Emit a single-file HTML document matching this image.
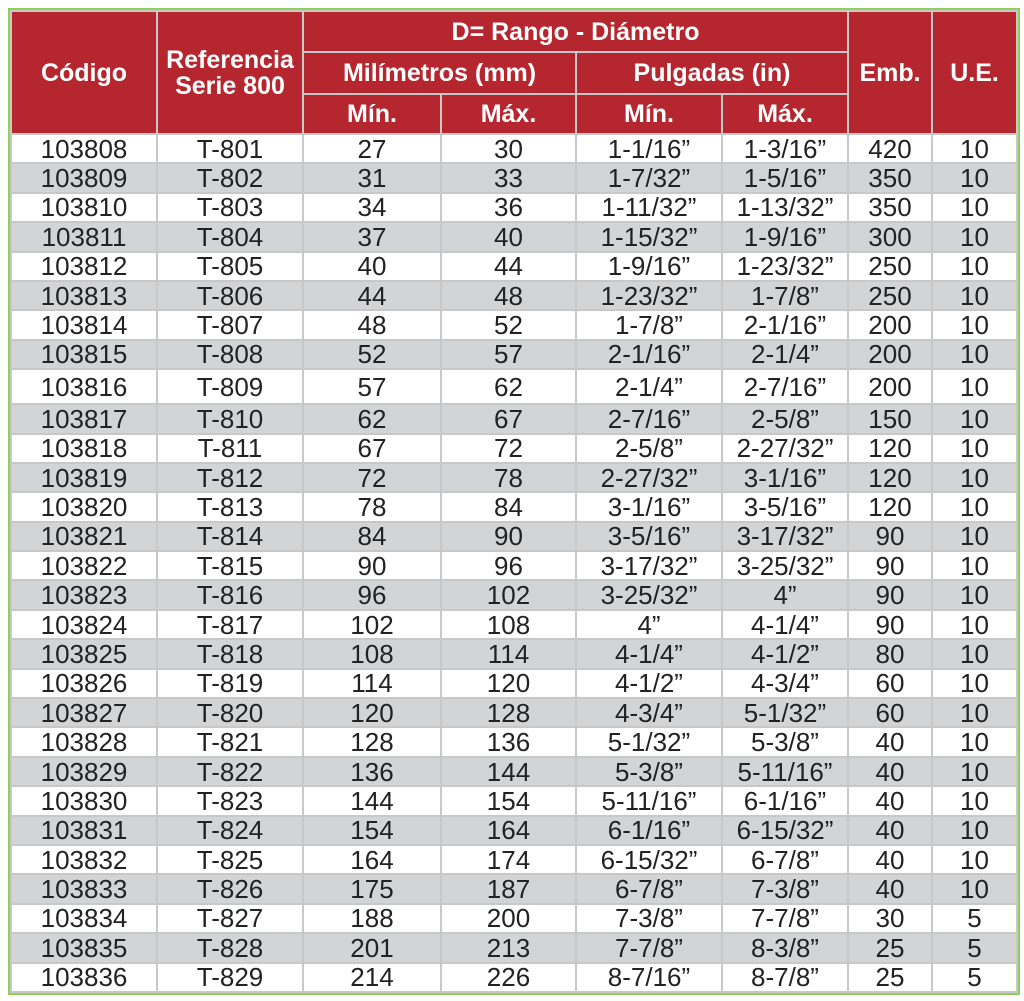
<!DOCTYPE html>
<html><head><meta charset="utf-8"><style>
html,body{margin:0;padding:0;background:#fff;width:1024px;height:1001px;overflow:hidden}
table{position:absolute;left:10px;top:10px;border-collapse:collapse;table-layout:fixed;font-family:"Liberation Sans",sans-serif;outline:2px solid #8fcf5a}
td,th{border:2px solid #c8c8c8;padding:0;text-align:center;overflow:hidden;white-space:nowrap}
th{background:#b5262f;color:#fff;font-weight:bold;font-size:25px;border-color:#c9c9c9;line-height:26px}
td{font-size:26px;color:#222;line-height:24px}
tr.d{height:29.4px}
tr.g td{background:#d3d4d6}
tr.t{height:35px}
</style></head><body>
<table>
<colgroup><col style="width:146px"><col style="width:146px"><col style="width:138px"><col style="width:135px"><col style="width:146px"><col style="width:126px"><col style="width:84px"><col style="width:85px"></colgroup>
<tr style="height:41px"><th rowspan="3">Código</th><th rowspan="3">Referencia<br>Serie 800</th><th colspan="4">D= Rango - Diámetro</th><th rowspan="3">Emb.</th><th rowspan="3">U.E.</th></tr>
<tr style="height:42px"><th colspan="2">Milímetros (mm)</th><th colspan="2">Pulgadas (in)</th></tr>
<tr style="height:40px"><th>Mín.</th><th>Máx.</th><th>Mín.</th><th>Máx.</th></tr>
<tr class="d"><td>103808</td><td>T-801</td><td>27</td><td>30</td><td>1-1/16”</td><td>1-3/16”</td><td>420</td><td>10</td></tr>
<tr class="d g"><td>103809</td><td>T-802</td><td>31</td><td>33</td><td>1-7/32”</td><td>1-5/16”</td><td>350</td><td>10</td></tr>
<tr class="d"><td>103810</td><td>T-803</td><td>34</td><td>36</td><td>1-11/32”</td><td>1-13/32”</td><td>350</td><td>10</td></tr>
<tr class="d g"><td>103811</td><td>T-804</td><td>37</td><td>40</td><td>1-15/32”</td><td>1-9/16”</td><td>300</td><td>10</td></tr>
<tr class="d"><td>103812</td><td>T-805</td><td>40</td><td>44</td><td>1-9/16”</td><td>1-23/32”</td><td>250</td><td>10</td></tr>
<tr class="d g"><td>103813</td><td>T-806</td><td>44</td><td>48</td><td>1-23/32”</td><td>1-7/8”</td><td>250</td><td>10</td></tr>
<tr class="d"><td>103814</td><td>T-807</td><td>48</td><td>52</td><td>1-7/8”</td><td>2-1/16”</td><td>200</td><td>10</td></tr>
<tr class="d g"><td>103815</td><td>T-808</td><td>52</td><td>57</td><td>2-1/16”</td><td>2-1/4”</td><td>200</td><td>10</td></tr>
<tr class="t"><td>103816</td><td>T-809</td><td>57</td><td>62</td><td>2-1/4”</td><td>2-7/16”</td><td>200</td><td>10</td></tr>
<tr class="d g"><td>103817</td><td>T-810</td><td>62</td><td>67</td><td>2-7/16”</td><td>2-5/8”</td><td>150</td><td>10</td></tr>
<tr class="d"><td>103818</td><td>T-811</td><td>67</td><td>72</td><td>2-5/8”</td><td>2-27/32”</td><td>120</td><td>10</td></tr>
<tr class="d g"><td>103819</td><td>T-812</td><td>72</td><td>78</td><td>2-27/32”</td><td>3-1/16”</td><td>120</td><td>10</td></tr>
<tr class="d"><td>103820</td><td>T-813</td><td>78</td><td>84</td><td>3-1/16”</td><td>3-5/16”</td><td>120</td><td>10</td></tr>
<tr class="d g"><td>103821</td><td>T-814</td><td>84</td><td>90</td><td>3-5/16”</td><td>3-17/32”</td><td>90</td><td>10</td></tr>
<tr class="d"><td>103822</td><td>T-815</td><td>90</td><td>96</td><td>3-17/32”</td><td>3-25/32”</td><td>90</td><td>10</td></tr>
<tr class="d g"><td>103823</td><td>T-816</td><td>96</td><td>102</td><td>3-25/32”</td><td>4”</td><td>90</td><td>10</td></tr>
<tr class="d"><td>103824</td><td>T-817</td><td>102</td><td>108</td><td>4”</td><td>4-1/4”</td><td>90</td><td>10</td></tr>
<tr class="d g"><td>103825</td><td>T-818</td><td>108</td><td>114</td><td>4-1/4”</td><td>4-1/2”</td><td>80</td><td>10</td></tr>
<tr class="d"><td>103826</td><td>T-819</td><td>114</td><td>120</td><td>4-1/2”</td><td>4-3/4”</td><td>60</td><td>10</td></tr>
<tr class="d g"><td>103827</td><td>T-820</td><td>120</td><td>128</td><td>4-3/4”</td><td>5-1/32”</td><td>60</td><td>10</td></tr>
<tr class="d"><td>103828</td><td>T-821</td><td>128</td><td>136</td><td>5-1/32”</td><td>5-3/8”</td><td>40</td><td>10</td></tr>
<tr class="d g"><td>103829</td><td>T-822</td><td>136</td><td>144</td><td>5-3/8”</td><td>5-11/16”</td><td>40</td><td>10</td></tr>
<tr class="d"><td>103830</td><td>T-823</td><td>144</td><td>154</td><td>5-11/16”</td><td>6-1/16”</td><td>40</td><td>10</td></tr>
<tr class="d g"><td>103831</td><td>T-824</td><td>154</td><td>164</td><td>6-1/16”</td><td>6-15/32”</td><td>40</td><td>10</td></tr>
<tr class="d"><td>103832</td><td>T-825</td><td>164</td><td>174</td><td>6-15/32”</td><td>6-7/8”</td><td>40</td><td>10</td></tr>
<tr class="d g"><td>103833</td><td>T-826</td><td>175</td><td>187</td><td>6-7/8”</td><td>7-3/8”</td><td>40</td><td>10</td></tr>
<tr class="d"><td>103834</td><td>T-827</td><td>188</td><td>200</td><td>7-3/8”</td><td>7-7/8”</td><td>30</td><td>5</td></tr>
<tr class="d g"><td>103835</td><td>T-828</td><td>201</td><td>213</td><td>7-7/8”</td><td>8-3/8”</td><td>25</td><td>5</td></tr>
<tr class="d"><td>103836</td><td>T-829</td><td>214</td><td>226</td><td>8-7/16”</td><td>8-7/8”</td><td>25</td><td>5</td></tr>
</table>
</body></html>
